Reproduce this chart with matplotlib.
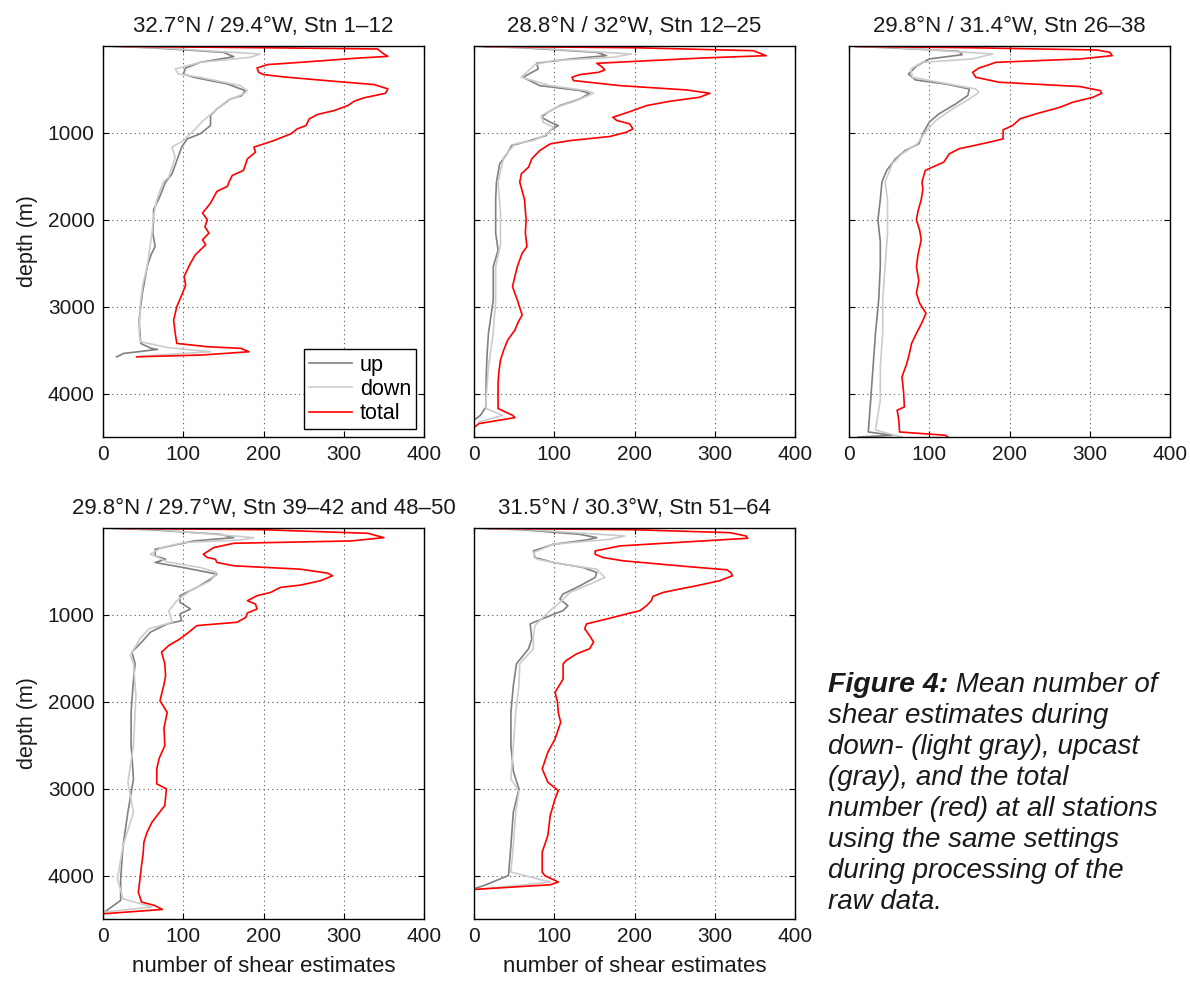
import matplotlib
matplotlib.use('Agg')
import matplotlib.pyplot as plt

plt.rcParams['font.family'] = ['Liberation Sans', 'DejaVu Sans']

titles = ['32.7°N / 29.4°W, Stn 1–12', '28.8°N / 32°W, Stn 12–25',
          '29.8°N / 31.4°W, Stn 26–38', '29.8°N / 29.7°W, Stn 39–42 and 48–50',
          '31.5°N / 30.3°W, Stn 51–64']
series_names = ['up', 'down', 'total']
x_ticks = [0, 100, 200, 300, 400]
depth_ticks = [1000, 2000, 3000, 4000]

# panel 1
p1_up_depth = [5, 20, 73, 123, 188, 253, 322, 360, 437, 513, 571, 609, 724, 800, 915, 1011, 1069, 1164, 1318, 1471,
               1566, 1750, 1885, 2000, 2150, 2308, 2400, 2538, 2700, 2846, 3000, 3154, 3300, 3423, 3480, 3492, 3538,
               3577]
p1_up = [13, 60, 150, 163, 121, 103, 100, 113, 155, 177, 173, 159, 142, 134, 134, 121, 105, 98, 92, 86,
         78, 70, 63, 63, 62, 65, 60, 55, 52, 49, 47, 45, 46, 47, 60, 68, 26, 17]
p1_down_depth = [5, 20, 92, 130, 188, 264, 322, 360, 456, 513, 552, 628, 743, 858, 992, 1088, 1164, 1279, 1509, 1566,
                 1769, 1960, 2154, 2350, 2538, 2730, 2923, 3100, 3307, 3404, 3470, 3519, 3570]
p1_down = [13, 70, 196, 184, 121, 90, 94, 121, 171, 180, 175, 155, 140, 125, 111, 100, 86, 90, 82, 75,
           67, 63, 61, 58, 55, 50, 47, 46, 45, 47, 80, 134, 47]
p1_tot_depth = [5, 20, 34, 92, 119, 142, 188, 214, 253, 303, 329, 360, 406, 444, 494, 544, 597, 636, 686, 743,
                789, 839, 915, 954, 1011, 1088, 1164, 1222, 1298, 1432, 1490, 1566, 1615, 1673, 1740, 1808, 1923,
                2000, 2080, 2154, 2230, 2288, 2350, 2404, 2500, 2654, 2750, 2846, 3000, 3154, 3307, 3423, 3461,
                3480, 3519, 3557, 3577]
p1_tot = [23, 200, 342, 350, 355, 313, 246, 205, 192, 194, 200, 230, 288, 338, 355, 352, 325, 313, 305, 288,
          267, 257, 253, 242, 234, 213, 188, 190, 180, 175, 161, 157, 155, 142, 138, 134, 124,
          130, 127, 132, 124, 128, 121, 115, 109, 101, 103, 99, 92, 88, 90, 92, 130,
          172, 182, 122, 42]

# panel 2
p2_up_depth = [5, 20, 73, 111, 149, 199, 264, 360, 456, 513, 544, 609, 686, 762, 820, 877, 915, 973, 1030, 1088,
               1145, 1241, 1356, 1566, 1769, 2154, 2350, 2538, 2923, 3307, 3600, 3884, 4154, 4250, 4307]
p2_up = [7, 60, 153, 165, 120, 78, 80, 61, 82, 132, 144, 132, 107, 92, 84, 95, 105, 95, 90, 70,
         47, 41, 32, 28, 27, 27, 30, 24, 24, 18, 16, 15, 15, 8, 0]
p2_down_depth = [5, 20, 92, 130, 168, 214, 360, 456, 513, 544, 628, 705, 800, 877, 934, 1011, 1088, 1126, 1279, 1566,
                 1920, 2288, 2538, 2923, 3307, 3692, 4077, 4173, 4250, 4327]
p2_down = [7, 70, 196, 173, 99, 76, 59, 95, 140, 149, 128, 103, 84, 86, 99, 92, 74, 51, 37, 30,
           33, 33, 27, 27, 24, 18, 15, 15, 36, 6]
p2_tot_depth = [5, 20, 54, 111, 138, 199, 237, 276, 303, 329, 360, 398, 456, 506, 544, 590, 636, 686, 743, 781,
                820, 858, 896, 954, 992, 1042, 1088, 1126, 1203, 1298, 1394, 1471, 1566, 1769, 1900, 2000, 2150,
                2308, 2385, 2538, 2650, 2770, 2923, 3096, 3180, 3269, 3384, 3500, 3615, 3750, 3884, 4050, 4173,
                4250, 4277, 4346, 4384]
p2_tot = [14, 200, 348, 364, 285, 153, 159, 163, 155, 132, 122, 124, 182, 265, 294, 281, 244, 215, 198, 186,
          173, 178, 194, 198, 190, 169, 120, 95, 82, 72, 68, 59, 57, 63, 64, 65, 64,
          66, 60, 54, 51, 48, 54, 60, 55, 51, 42, 37, 33, 31, 30, 30, 30, 48, 51, 6, 1]

# panel 3
p3_up_depth = [5, 20, 61, 100, 149, 226, 322, 391, 437, 494, 571, 666, 781, 877, 992, 1126, 1203, 1298, 1432, 1566,
               1769, 2000, 2250, 2538, 2923, 3307, 3692, 4077, 4442, 4480, 4500]
p3_up = [8, 50, 137, 141, 100, 85, 74, 83, 120, 150, 148, 133, 112, 100, 93, 87, 70, 58, 47, 41,
         39, 36, 39, 39, 37, 33, 30, 27, 24, 54, 12]
p3_down_depth = [5, 20, 92, 149, 188, 264, 360, 417, 494, 532, 609, 724, 858, 992, 1126, 1241, 1356, 1566, 1769,
                 2154, 2538, 2923, 3307, 3692, 4077, 4420, 4500]
p3_down = [8, 60, 179, 154, 91, 77, 79, 112, 158, 162, 150, 129, 108, 95, 85, 66, 54, 45, 48,
           48, 45, 42, 42, 39, 39, 33, 66]
p3_tot_depth = [5, 20, 46, 73, 111, 149, 188, 214, 253, 303, 360, 417, 467, 513, 544, 590, 647, 705, 781, 839,
                915, 965, 1069, 1107, 1183, 1241, 1337, 1394, 1432, 1566, 1650, 1769, 1900, 2000, 2120, 2230,
                2400, 2538, 2700, 2846, 2960, 3077, 3200, 3307, 3423, 3550, 3654, 3808, 3980, 4154, 4192, 4300,
                4442, 4480, 4500]
p3_tot = [8, 150, 309, 325, 328, 288, 183, 175, 162, 154, 158, 187, 288, 313, 315, 304, 279, 263, 233, 213,
          204, 192, 192, 175, 137, 125, 118, 104, 95, 91, 92, 90, 86, 84, 88, 90,
          86, 84, 87, 84, 88, 96, 90, 84, 78, 75, 72, 66, 68, 69, 60, 62,
          63, 120, 123]

# panel 4
p4_up_depth = [5, 20, 73, 111, 149, 244, 321, 359, 397, 455, 531, 588, 684, 779, 856, 932, 989, 1066, 1104, 1199,
               1295, 1429, 1562, 1739, 2122, 2500, 2888, 3271, 3654, 4037, 4286, 4420]
p4_up = [13, 60, 146, 163, 113, 65, 65, 78, 65, 100, 142, 134, 117, 96, 96, 109, 96, 98, 80, 59,
         50, 36, 40, 38, 35, 35, 38, 31, 25, 22, 22, 2]
p4_down_depth = [5, 20, 111, 138, 168, 225, 302, 340, 390, 455, 512, 607, 722, 837, 951, 1085, 1161, 1276, 1467,
                 1562, 1930, 2505, 2926, 3271, 3654, 4037, 4267, 4362, 4420]
p4_down = [13, 70, 188, 171, 100, 73, 59, 69, 80, 121, 142, 134, 109, 92, 82, 86, 57, 46, 34,
           38, 41, 38, 31, 38, 25, 18, 25, 61, 2]
p4_tot_depth = [5, 20, 61, 111, 149, 176, 225, 302, 340, 359, 397, 435, 474, 520, 550, 607, 657, 684, 741, 779,
                837, 875, 932, 978, 1028, 1085, 1123, 1199, 1276, 1352, 1429, 1562, 1700, 1800, 1988, 2122, 2300,
                2505, 2650, 2773, 2945, 3003, 3194, 3386, 3500, 3615, 3750, 3884, 4050, 4190, 4305, 4343, 4390,
                4439]
p4_tot = [23, 200, 330, 350, 309, 163, 138, 125, 130, 140, 142, 163, 246, 280, 286, 271, 246, 221, 209, 192,
          180, 190, 192, 180, 178, 167, 117, 107, 96, 82, 73, 77, 78, 76, 71, 80, 76,
          77, 70, 67, 67, 79, 77, 61, 55, 51, 50, 48, 46, 44, 48, 64, 74,
          2]

# panel 5
p5_up_depth = [5, 20, 73, 111, 138, 187, 264, 340, 397, 455, 512, 569, 665, 760, 818, 894, 951, 1008, 1104, 1276,
               1390, 1562, 1815, 2122, 2500, 2800, 3003, 3271, 3654, 3999, 4113, 4152]
p5_up = [10, 60, 132, 153, 140, 99, 74, 76, 99, 136, 153, 151, 132, 111, 107, 117, 111, 95, 70, 72,
         68, 53, 49, 46, 46, 49, 56, 49, 46, 43, 13, 0]
p5_down_depth = [5, 20, 92, 130, 187, 283, 359, 416, 474, 569, 627, 741, 856, 932, 1028, 1123, 1238, 1390, 1562, 1815,
                 2122, 2505, 2888, 3030, 3271, 3654, 3960, 4075, 4132, 4160]
p5_down = [10, 70, 188, 169, 99, 74, 78, 111, 153, 163, 149, 120, 107, 97, 86, 76, 74, 74, 57, 56,
           52, 49, 46, 56, 52, 49, 46, 95, 36, 0]
p5_tot_depth = [5, 20, 54, 92, 118, 149, 206, 264, 302, 340, 378, 443, 481, 512, 550, 607, 665, 703, 741, 787,
                837, 894, 951, 989, 1039, 1104, 1161, 1238, 1314, 1390, 1448, 1524, 1566, 1739, 1892, 2000, 2122,
                2237, 2428, 2581, 2773, 2926, 3022, 3118, 3309, 3539, 3730, 3960, 3999, 4075, 4106, 4160]
p5_tot = [18, 200, 319, 339, 341, 285, 182, 151, 151, 161, 186, 265, 315, 320, 322, 306, 277, 256, 236, 223,
          221, 215, 207, 190, 169, 140, 138, 144, 149, 144, 128, 115, 111, 111, 101, 104, 105,
          108, 101, 92, 85, 92, 105, 101, 95, 92, 85, 85, 88, 105, 95, 0]

caption_lines = ['shear estimates during', 'down- (light gray), upcast', '(gray), and the total',
                 'number (red) at all stations', 'using the same settings', 'during processing of the',
                 'raw data.']

panels = [
    ((p1_up_depth, p1_up), (p1_down_depth, p1_down), (p1_tot_depth, p1_tot)),
    ((p2_up_depth, p2_up), (p2_down_depth, p2_down), (p2_tot_depth, p2_tot)),
    ((p3_up_depth, p3_up), (p3_down_depth, p3_down), (p3_tot_depth, p3_tot)),
    ((p4_up_depth, p4_up), (p4_down_depth, p4_down), (p4_tot_depth, p4_tot)),
    ((p5_up_depth, p5_up), (p5_down_depth, p5_down), (p5_tot_depth, p5_tot)),
]
colors = ['#808080', '#cccccc', '#ff0000']
text_col = '#1a1a1a'

W, H = 1190, 982
fig = plt.figure(figsize=(W / 100, H / 100), dpi=100)

# axes boxes in pixels: left, top
boxes = [(103, 46), (474, 46), (849, 46), (103, 528), (474, 528)]
aw, ah = 321, 391

for i, (box, data) in enumerate(zip(boxes, panels)):
    x0, y0 = box
    ax = fig.add_axes([x0 / W, 1 - (y0 + ah) / H, aw / W, ah / H])
    for (d, v), c, name in zip(data, colors, series_names):
        ax.plot(v, d, color=c, lw=1.2, label=name)
    ax.set_xlim(0, 400)
    ax.set_ylim(4500, 0)
    ax.set_xticks(x_ticks)
    ax.set_yticks(depth_ticks)
    ax.grid(True, color='#555555', linestyle=(0, (1, 3)), lw=0.8)
    ax.tick_params(direction='in', top=True, right=True, length=4, width=0.8,
                   labelsize=15, labelcolor=text_col, pad=6)
    for s in ax.spines.values():
        s.set_linewidth(1.0)
    ax.set_title(titles[i], fontsize=16, color=text_col, pad=10)
    if i in (0, 3):
        ax.set_ylabel('depth (m)', fontsize=15.5, color=text_col, labelpad=7)
    else:
        ax.set_yticklabels([])
    if i >= 3:
        ax.set_xlabel('number of shear estimates', fontsize=16, color=text_col, labelpad=7)
    if i == 0:
        leg = ax.legend(loc='lower right', fontsize=15.5, fancybox=False, framealpha=1,
                        edgecolor='black', borderaxespad=0.35, handlelength=2.0,
                        handletextpad=0.35, labelspacing=0.15, borderpad=0.25)
        leg.get_frame().set_linewidth(1.0)

# caption
cx = 828 / W
cy0 = 1 - 692 / H
step = 31 / H
cap_ax = fig.add_axes([0, 0, 1, 1])
cap_ax.axis('off')
t1 = cap_ax.text(cx, cy0, 'Figure 4:', fontsize=20.5, fontweight='bold', fontstyle='italic',
                 color=text_col, va='baseline', transform=fig.transFigure)
cap_ax.annotate(' Mean number of', xy=(1, 0), xycoords=t1, fontsize=20, fontstyle='italic',
                color=text_col, va='bottom', ha='left')
for k, line in enumerate(caption_lines):
    cap_ax.text(cx, cy0 - (k + 1) * step, line, fontsize=20, fontstyle='italic',
                color=text_col, va='baseline', transform=fig.transFigure)

fig.savefig('out.png', dpi=100)
